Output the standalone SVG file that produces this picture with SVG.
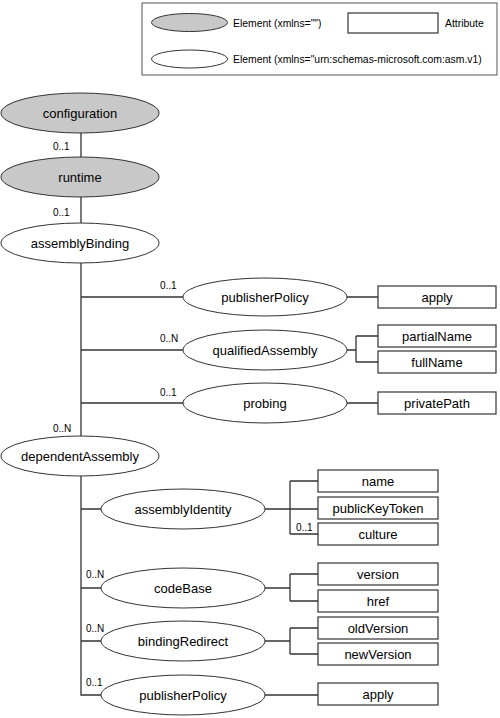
<svg xmlns="http://www.w3.org/2000/svg" width="500" height="718" viewBox="0 0 500 718">
<style>
.el{fill:#ffffff;stroke:#333333;stroke-width:1}
.gr{fill:#c8c8c8;stroke:#333333;stroke-width:1}
.at{fill:#ffffff;stroke:#333333;stroke-width:1.2}
.t{font-family:"Liberation Sans",Arial,sans-serif;font-size:13px;fill:#000000;text-anchor:middle}
.lb{font-family:"Liberation Sans",Arial,sans-serif;font-size:10px;fill:#000000}
.lg{font-family:"Liberation Sans",Arial,sans-serif;font-size:10.4px;fill:#000000}
.cn{fill:none;stroke:#333333;stroke-width:1.3}
</style>
<rect width="500" height="718" fill="#ffffff"/>
<g id="legend">
<rect x="142" y="3" width="355" height="72" fill="#ffffff" stroke="#555555" stroke-width="1"/>
<ellipse class="gr" cx="189.5" cy="22.5" rx="38" ry="9"/>
<text class="lg" x="233" y="26.5">Element (xmlns="")</text>
<rect class="at" x="348" y="13" width="90" height="20"/>
<text class="lg" x="445" y="26.5">Attribute</text>
<ellipse class="el" cx="189.5" cy="59" rx="38" ry="9"/>
<text class="lg" x="233" y="63">Element (xmlns="urn:schemas-microsoft.com:asm.v1)</text>
</g>
<g id="connectors">
<path class="cn" d="M81 133V157M81 197V223M81 263V436M81 297H183M81 350H183M81 403H183"/>
<path class="cn" d="M347 297H378M347 350H356M356 336V362M356 336H378M356 362H378M347 403H378"/>
<path class="cn" d="M81 476V695H101M81 509H101M81 588H101M81 641H101"/>
<path class="cn" d="M265 509H318M290 481V534M290 481H318M290 534H318"/>
<path class="cn" d="M265 588H290M290 574V601M290 574H318M290 601H318"/>
<path class="cn" d="M265 641H290M290 628V654M290 628H318M290 654H318"/>
<path class="cn" d="M265 695H318"/>
<text class="lb" x="53" y="150">0..1</text>
<text class="lb" x="53" y="216">0..1</text>
<text class="lb" x="160" y="289">0..1</text>
<text class="lb" x="160" y="342">0..N</text>
<text class="lb" x="160" y="396">0..1</text>
<text class="lb" x="53" y="432">0..N</text>
<text class="lb" x="296" y="531">0..1</text>
<text class="lb" x="86" y="578">0..N</text>
<text class="lb" x="86" y="632">0..N</text>
<text class="lb" x="86" y="686">0..1</text>
</g>
<g id="configuration"><ellipse class="gr" cx="80" cy="113" rx="79" ry="20"/><text class="t" x="80" y="117.5">configuration</text></g>
<g id="runtime"><ellipse class="gr" cx="80" cy="177" rx="79" ry="20"/><text class="t" x="80" y="181.5">runtime</text></g>
<g id="assemblyBinding"><ellipse class="el" cx="80" cy="243" rx="79" ry="20"/><text class="t" x="80" y="247.5">assemblyBinding</text></g>
<g id="publisherPolicy1"><ellipse class="el" cx="265" cy="297" rx="82" ry="19"/><text class="t" x="265" y="301.5">publisherPolicy</text></g>
<g id="apply1"><rect class="at" x="378" y="286" width="118" height="22"/><text class="t" x="437" y="301.5">apply</text></g>
<g id="qualifiedAssembly"><ellipse class="el" cx="265" cy="350" rx="82" ry="20"/><text class="t" x="265" y="354.5">qualifiedAssembly</text></g>
<g id="partialName"><rect class="at" x="378" y="325" width="118" height="22"/><text class="t" x="437" y="340.5">partialName</text></g>
<g id="fullName"><rect class="at" x="378" y="351" width="118" height="22"/><text class="t" x="437" y="366.5">fullName</text></g>
<g id="probing"><ellipse class="el" cx="265" cy="403" rx="82" ry="20"/><text class="t" x="265" y="407.5">probing</text></g>
<g id="privatePath"><rect class="at" x="378" y="392" width="118" height="22"/><text class="t" x="437" y="407.5">privatePath</text></g>
<g id="dependentAssembly"><ellipse class="el" cx="80" cy="456" rx="79" ry="20"/><text class="t" x="80" y="460.5">dependentAssembly</text></g>
<g id="assemblyIdentity"><ellipse class="el" cx="183" cy="509" rx="82" ry="20"/><text class="t" x="183" y="513.5">assemblyIdentity</text></g>
<g id="name"><rect class="at" x="318" y="470" width="120" height="22"/><text class="t" x="378" y="485.5">name</text></g>
<g id="publicKeyToken"><rect class="at" x="318" y="497" width="120" height="22"/><text class="t" x="378" y="512.5">publicKeyToken</text></g>
<g id="culture"><rect class="at" x="318" y="523" width="120" height="22"/><text class="t" x="378" y="538.5">culture</text></g>
<g id="codeBase"><ellipse class="el" cx="183" cy="588" rx="82" ry="20"/><text class="t" x="183" y="592.5">codeBase</text></g>
<g id="version"><rect class="at" x="318" y="563" width="120" height="22"/><text class="t" x="378" y="578.5">version</text></g>
<g id="href"><rect class="at" x="318" y="590" width="120" height="22"/><text class="t" x="378" y="605.5">href</text></g>
<g id="bindingRedirect"><ellipse class="el" cx="183" cy="641" rx="82" ry="20"/><text class="t" x="183" y="645.5">bindingRedirect</text></g>
<g id="oldVersion"><rect class="at" x="318" y="617" width="120" height="22"/><text class="t" x="378" y="632.5">oldVersion</text></g>
<g id="newVersion"><rect class="at" x="318" y="643" width="120" height="22"/><text class="t" x="378" y="658.5">newVersion</text></g>
<g id="publisherPolicy2"><ellipse class="el" cx="183" cy="695" rx="82" ry="20"/><text class="t" x="183" y="699.5">publisherPolicy</text></g>
<g id="apply2"><rect class="at" x="318" y="683" width="120" height="22"/><text class="t" x="378" y="698.5">apply</text></g>
</svg>
